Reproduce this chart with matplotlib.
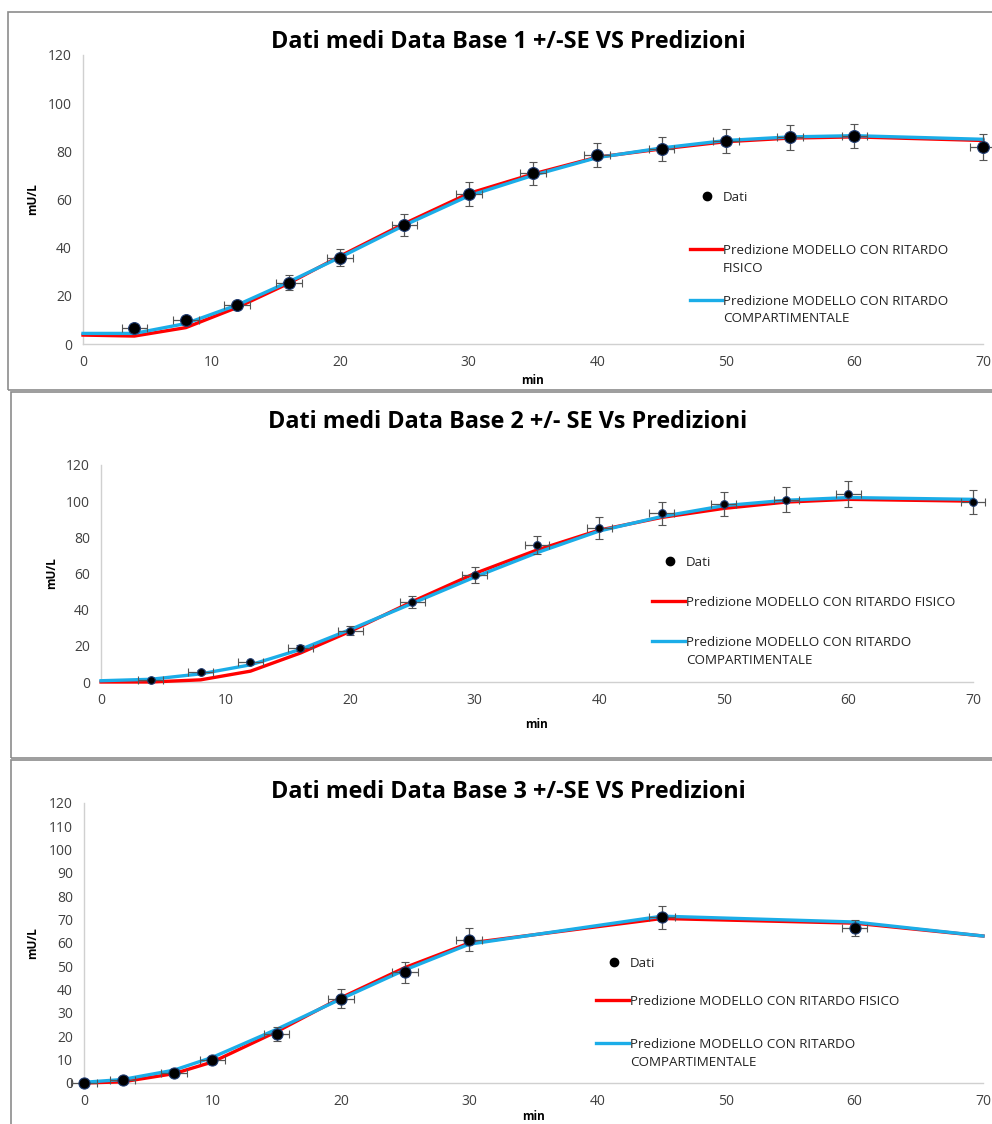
import matplotlib
matplotlib.use("Agg")
import matplotlib.pyplot as plt
from matplotlib.patches import Rectangle
from matplotlib.lines import Line2D

plt.rcParams['font.family'] = ['Open Sans', 'DejaVu Sans']

RED = '#FF0000'
BLUE = '#1BADE8'

# ---- Data Base 1 ----
t1 = [4, 8, 12, 16, 20, 25, 30, 35, 40, 45, 50, 55, 60, 70]
dati1 = [6.5, 9.9, 16.3, 25.5, 35.9, 49.4, 62.3, 70.8, 78.6, 81.1, 84.4, 85.8, 86.2, 81.9]
se1 = [1.0, 1.0, 1.5, 3.0, 3.6, 4.5, 4.9, 4.8, 5.0, 5.0, 5.0, 5.2, 5.0, 5.5]
tm1 = [0, 4, 8, 12, 16, 20, 25, 30, 35, 40, 45, 50, 55, 60, 70]
fisico1 = [3.7, 3.3, 6.8, 15.2, 25.2, 36.5, 50.0, 62.5, 70.6, 77.6, 81.0, 84.0, 85.5, 86.0, 84.5]
comp1 = [4.4, 4.4, 8.5, 16.2, 25.8, 36.0, 49.3, 61.5, 70.0, 77.4, 81.4, 84.5, 86.0, 86.5, 85.0]

# ---- Data Base 2 ----
t2 = [4, 8, 12, 16, 20, 25, 30, 35, 40, 45, 50, 55, 60, 70]
dati2 = [1.3, 5.5, 10.8, 18.7, 28.4, 44.1, 59.0, 75.8, 85.2, 93.2, 98.4, 100.9, 103.8, 99.6]
se2 = [0.5, 1.0, 1.0, 1.5, 2.3, 3.4, 4.5, 5.0, 5.9, 6.2, 6.5, 6.8, 7.1, 6.7]
tm2 = [0, 4, 8, 12, 16, 20, 25, 30, 35, 40, 45, 50, 55, 60, 70]
fisico2 = [0.0, 0.0, 1.2, 6.0, 16.0, 28.0, 44.5, 60.0, 73.0, 84.0, 91.0, 96.0, 99.5, 101.0, 100.0]
comp2 = [0.7, 1.5, 4.5, 9.5, 18.0, 29.0, 43.5, 58.0, 71.5, 83.5, 91.5, 97.5, 100.5, 102.0, 101.0]

# ---- Data Base 3 ----
t3 = [0, 3, 7, 10, 15, 20, 25, 30, 45, 60]
dati3 = [0.0, 1.1, 4.3, 9.7, 21.1, 36.1, 47.5, 61.5, 71.0, 66.6]
se3 = [0.3, 0.5, 1.0, 1.5, 3.0, 4.0, 4.5, 5.1, 4.9, 3.4]
tm3 = [0, 3, 7, 10, 15, 20, 25, 30, 45, 60, 70]
fisico3 = [0.0, 0.5, 4.0, 9.0, 22.0, 36.5, 49.5, 60.0, 70.5, 68.5, 63.0]
comp3 = [0.3, 1.5, 5.5, 11.0, 23.0, 36.0, 48.5, 59.5, 71.5, 69.0, 63.0]

titles = ["Dati medi Data Base 1 +/-SE VS Predizioni",
          "Dati medi Data Base 2 +/- SE Vs Predizioni",
          "Dati medi Data Base 3 +/-SE VS Predizioni"]
lab_fis = ["Predizione MODELLO CON RITARDO\nFISICO",
           "Predizione MODELLO CON RITARDO FISICO",
           "Predizione MODELLO CON RITARDO FISICO"]
lab_comp = "Predizione MODELLO CON RITARDO\nCOMPARTIMENTALE"

W, H = 992, 1124
fig = plt.figure(figsize=(W / 100, H / 100), dpi=100)


def fx(px):
    return px / W


def fy(py):
    return 1 - py / H


# panel frames (pixels: x0, y0 top, y1 bottom)
for x0, y0, y1 in [(8, 12, 390), (11, 392, 758), (11, 760, 1130)]:
    fig.patches.append(Rectangle((fx(x0), fy(y1)), (W + 5 - x0) / W, (y1 - y0) / H,
                                 transform=fig.transFigure, fill=False,
                                 edgecolor='#8c8c8c', linewidth=1.2))

# axes boxes in pixels: left, right, top(y=120), bottom(y=0)
boxes = [(83, 983, 55, 344), (101, 973, 465, 682), (84, 983, 803, 1083)]
panels = [(t1, dati1, se1, tm1, fisico1, comp1, 20, 8.5),
          (t2, dati2, se2, tm2, fisico2, comp2, 20, 5.5),
          (t3, dati3, se3, tm3, fisico3, comp3, 10, 8.0)]
title_y = [42, 422, 792]
xlab_y = [380, 725, 1117]
ylab_x = [33, 52, 33]
# legend: handle left x, handle right x, y of Dati, y of red, y of blue
legs = [(690, 722, 196, 249, 300), (652, 685, 561, 601, 641), (596, 629, 962, 1000, 1043)]

for i, (box, pan) in enumerate(zip(boxes, panels)):
    l, r, tp, bt = box
    t, d, se, tm, fis, comp, ystep, ms = pan
    ax = fig.add_axes([fx(l), fy(bt), (r - l) / W, (bt - tp) / H])
    ax.set_xlim(0, 70)
    ax.set_ylim(0, 120)
    ax.set_xticks(range(0, 71, 10))
    ax.set_yticks(range(0, 121, ystep))
    for s in ['top', 'right']:
        ax.spines[s].set_visible(False)
    for s in ['left', 'bottom']:
        ax.spines[s].set_color('#d0d0d0')
        ax.spines[s].set_linewidth(1.0)
    ax.tick_params(length=0, labelsize=10, colors='#404040', pad=8)

    ax.plot(tm, fis, color=RED, lw=2.4, clip_on=False, zorder=3)
    ax.plot(tm, comp, color=BLUE, lw=2.4, clip_on=False, zorder=4)
    eb = ax.errorbar(t, d, yerr=se, xerr=1, fmt='o', color='black', ms=ms,
                     mec='#1f3b70', mew=0.8, ecolor='#555555', elinewidth=0.9,
                     capsize=3, capthick=0.9, zorder=5, clip_on=False)
    for c in eb.get_children():
        c.set_clip_on(False)

    # legend drawn by hand so the handles sit on the first text line
    hl, hr, yd, yr, yb = legs[i]
    fig.add_artist(Line2D([fx((hl + hr) / 2 + 1)], [fy(yd)], marker='o', color='black',
                          ms=6, transform=fig.transFigure))
    fig.add_artist(Line2D([fx(hl), fx(hr)], [fy(yr)] * 2, color=RED, lw=2.4,
                          transform=fig.transFigure))
    fig.add_artist(Line2D([fx(hl), fx(hr)], [fy(yb)] * 2, color=BLUE, lw=2.4,
                          transform=fig.transFigure))
    for lab, yy in [("Dati", yd), (lab_fis[i], yr), (lab_comp, yb)]:
        fig.text(fx(hr + 1), fy(yy - 5), lab, ha='left', va='top', fontsize=9.6,
                 color='#222222', linespacing=1.45)

    fig.text(0.512, fy(title_y[i]), titles[i], ha='center', va='center',
             fontsize=16.8, fontweight='bold', color='black')
    fig.text(fx((l + r) / 2), fy(xlab_y[i]), "min", ha='center', va='center',
             fontsize=8.5, fontweight='bold')
    fig.text(fx(ylab_x[i]), fy((tp + bt) / 2), "mU/L", ha='center', va='center',
             rotation=90, fontsize=8.5, fontweight='bold')

fig.savefig("out.png", dpi=100)
